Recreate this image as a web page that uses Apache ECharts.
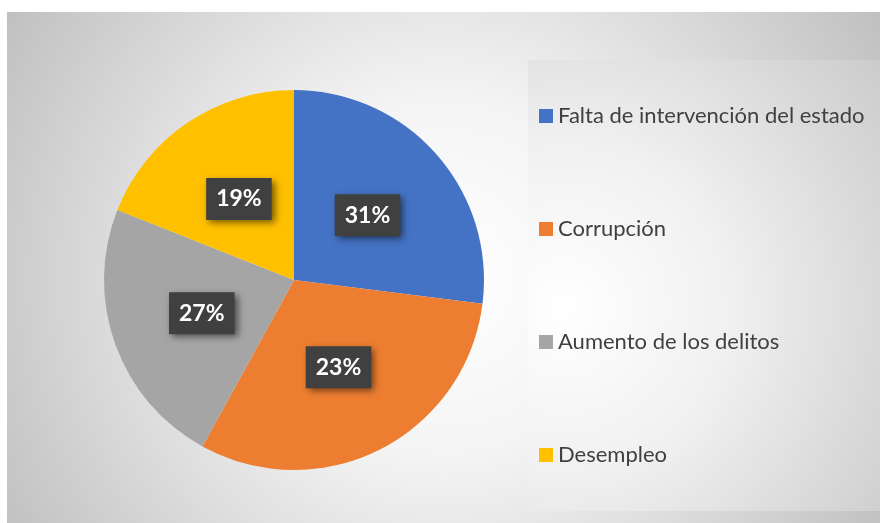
<!DOCTYPE html>
<html>
<head>
<meta charset="utf-8">
<script src="https://cdn.jsdelivr.net/npm/echarts@6/dist/echarts.min.js"></script>
<style>
html,body{margin:0;padding:0;background:#ffffff;}
#chart{width:880px;height:523px;}
</style>
</head>
<body>
<div id="chart"></div>
<script>
const categories = ['Falta de intervención del estado', 'Corrupción', 'Aumento de los delitos', 'Desempleo'];
const sliceValues = [27, 31, 23, 19];
const labelTexts = ['31%', '23%', '27%', '19%'];
const colors = ['#4472C4', '#ED7D31', '#A5A5A5', '#FFC000'];

const chart = echarts.init(document.getElementById('chart'), null, {renderer: 'canvas'});
const option = {
  animation: false,
  graphic: [
    {
      type: 'rect', z: -10, silent: true,
      shape: {x: 7, y: 12, width: 873, height: 511},
      style: {
        fill: {
          type: 'radial', x: 0.5, y: 0.52, r: 1.0,
          colorStops: [{offset: 0, color: '#ffffff'}, {offset: 0.35, color: '#f4f4f4'}, {offset: 1, color: '#c0c0c0'}]
        }
      }
    },
    {
      type: 'rect', z: -9, silent: true,
      shape: {x: 528, y: 60, width: 352, height: 451},
      style: {
        fill: {
          type: 'radial', x: 0.1, y: 0.55, r: 1.15,
          colorStops: [{offset: 0, color: '#ffffff'}, {offset: 0.4, color: '#f1f1f1'}, {offset: 1, color: '#cbcbcb'}]
        }
      }
    }
  ],
  legend: {
    orient: 'vertical',
    left: 539,
    top: 105,
    padding: 0,
    itemWidth: 14,
    itemHeight: 14,
    itemGap: 91,
    icon: 'rect',
    textStyle: {color: '#404040', fontSize: 22, lineHeight: 22, fontFamily: 'Lato'},
    data: categories
  },
  series: [{
    type: 'pie',
    center: [294, 280],
    radius: [0, 190],
    startAngle: 90,
    clockwise: true,
    silent: true,
    data: categories.map((c, i) => ({
      name: c, value: sliceValues[i],
      itemStyle: {color: colors[i]},
      label: {formatter: labelTexts[i]}
    })),
    itemStyle: {borderWidth: 0},
    label: {
      show: true,
      position: 'inside',
      color: '#ffffff',
      fontFamily: 'Lato',
      fontWeight: 'bold',
      fontSize: 23,
      lineHeight: 23,
      backgroundColor: '#404040',
      padding: [10, 10, 9, 10],
      shadowColor: 'rgba(0,0,0,0.55)',
      shadowBlur: 7,
      shadowOffsetX: 3,
      shadowOffsetY: 3
    },
    labelLine: {show: false}
  }]
};
chart.setOption(option);
</script>
</body>
</html>
